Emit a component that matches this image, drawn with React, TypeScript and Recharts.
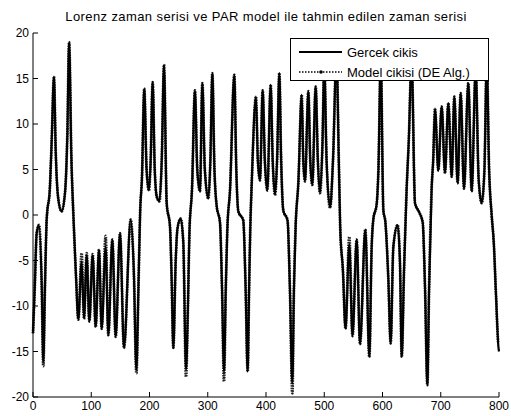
import React from "react";

// Library
import { LineChart, XAxis, YAxis, Line, Legend } from "recharts";

// sample index (x) and the two series at turning points
const sampleIndex = [
  0, 3, 6.3, 10.3, 14.9, 17.7, 20.5, 23.5, 29, 32, 36, 39, 43, 49, 55, 59, 62,
  66, 69, 74, 77.8, 83.5, 87.6, 92.2, 96.7, 102.4, 107.6, 113.3, 117.9, 124.7,
  129.3, 136.2, 141.9, 149.4, 156.2, 167.7, 173, 177.5, 181, 184, 187, 191,
  195, 199, 202, 205.4, 209, 212.5, 216.9, 221, 224.9, 229.5, 235.2, 238,
  240.9, 245, 248, 253.5, 258, 262.7, 266, 268.5, 273, 278, 282, 286.7, 290.7,
  295, 301, 304.5, 307.9, 311.5, 315.3, 321, 324.5, 327.9, 331, 333.6, 338.2,
  345.6, 349, 352.5, 361, 365, 368.5, 371, 373, 375.5, 382.8, 386, 389.7,
  394.3, 398, 402.3, 408, 411.5, 415.5, 419, 422.9, 426, 429.7, 437, 441,
  445.2, 448, 451, 455.5, 461.3, 464, 467, 472.7, 476, 479.5, 485.3, 489,
  492.7, 497, 500, 504, 510, 515, 521, 525, 527.5, 532, 536.5, 543, 548.5,
  555.7, 561.4, 570.5, 577.4, 581.4, 584.2, 590, 593, 597, 601.5, 605, 610,
  614, 618.6, 626, 630, 633, 637, 641.5, 645, 650, 655.8, 663, 669, 673, 677,
  680, 684.4, 687, 690.1, 695.8, 701.6, 707.3, 713, 718.8, 723.3, 729, 734.2,
  739.9, 747.3, 753.1, 760, 765, 770.3, 775, 779, 783, 787.4, 791, 795, 799,
  800,
];

const gercekCikis = [
  -13, -8, -2, -1.1, -7.5, -16.1, -8, -0.5, 3, 8, 15.2, 7, 2, 0.4, 2.5, 9, 19,
  6, 0.5, -7, -11.5, -5.1, -11.4, -4.4, -11.7, -4.4, -12.3, -3.8, -12.5, -3.5,
  -13.2, -2.7, -13.4, -2, -14.6, -0.5, -6, -17, -8, 0.5, 4, 13.9,
  5, 2.7, 6, 14.6, 5, 2, 1.5, 6, 16.5, 1.3, -1.3, -7,
  -14.6, -5, -1.5, -0.4, -3, -17, -10, -2, 2.9, 13.7, 5, 2.6, 14.5,
  5, 1.8, 6, 15.6, 5, 1, -0.8, -8, -17.2, -8, -1.6, 2.7,
  15.4, 5, 0.4, -0.6, -8, -17.2, -8, -1.5, 3.5, 13, 6, 3.8,
  13.7, 6, 2.7, 14.3, 6, 2.2, 6, 15.6, 6, 0.5, -0.6, -8,
  -18.5, -8, -1, 3.5, 13.2, 6, 3.7, 13.6, 6, 3.3, 14.1, 6,
  2.4, 8, 16.5, 6, 0.8, 6, 17.5, 6, -1.6, -6, -12.5, -3.2, -13.3,
  -2.7, -14.2, -1.6, -15.6, -3.5, -0.5, 1.2, 5, 17, 0.5, -0.8, -7,
  -14.1, -3.5, -1.1, -5.3, -15.6, -6, 3, 8, 17, 1.3, 0.3, -0.8, -8, -18.7,
  -8, 3, 6, 11.7, 4.9, 11.9, 4.6, 12.3, 4.2, 13, 3.5, 13.4,
  2.9, 14.5, 2.6, 16, 4, 1.3, 5, 17, 5, 0, -3, -9, -14.5,
  -15,
];

const modelCikisi = [
  -13, -8, -2, -1.1, -7.5, -16.6, -8, -0.5, 3, 8, 15.2, 7, 2, 0.4, 2.5, 9, 19,
  6, 0.5, -7, -11.5, -4.2, -11.4, -4.2, -11.7, -4.3, -12.3, -3.8, -12.5, -2.3,
  -13.2, -2.7, -13.4, -2, -14.6, -0.5, -6, -17.4, -8, 0.5, 4, 13.9,
  5, 2.7, 6, 14.6, 5, 2, 1.5, 6, 16.5, 1.3, -1.3, -7,
  -14.6, -5, -1.5, -0.4, -3, -17.8, -10, -2, 2.9, 13.7, 5, 2.6, 14.5,
  5, 1.8, 6, 15.6, 5, 1, -0.8, -8, -18.3, -8, -1.6, 2.7,
  15.4, 5, 0.4, -0.6, -8, -17.2, -8, -1.5, 3.5, 13, 6, 3.8,
  13.7, 6, 2.7, 14.3, 6, 2.2, 6, 15.6, 6, 0.5, -0.6, -8,
  -19.6, -8, -1, 3.5, 13.2, 6, 3.7, 13.6, 6, 3.3, 14.1, 6,
  2.4, 8, 16.5, 6, 0.8, 6, 17.5, 6, -1.6, -6, -12.5, -2.4, -13.3,
  -2.7, -14.2, -1.6, -15.6, -3.5, -0.5, 1.2, 5, 17, 0.5, -0.8, -7,
  -14.1, -3.5, -1.1, -5.3, -15.6, -6, 3, 8, 17, 1.3, 0.3, -0.8, -8, -18.7,
  -8, 3, 6, 11.7, 4.9, 11.9, 4.6, 12.3, 4.2, 13, 3.5, 13.4,
  2.9, 14.5, 2.6, 16, 4, 1.3, 5, 17, 5, 0, -3, -9, -14,
  -14,
];

const xTicks = [0, 100, 200, 300, 400, 500, 600, 700, 800];
const yTicks = [-20, -15, -10, -5, 0, 5, 10, 15, 20];

const data = sampleIndex.map((t, i) => ({
  t,
  gercek: gercekCikis[i],
  model: modelCikisi[i],
}));

const FONT = "'Liberation Sans', Arial, sans-serif";

const BottomTick = (props: any) => {
  const { x, y, payload } = props;
  return (
    <g>
      <line x1={x} x2={x} y1={y} y2={y - 5} stroke="#000" />
      <text x={x} y={y + 13} textAnchor="middle" fontSize={12} fontFamily={FONT} fill="#000">
        {payload.value}
      </text>
    </g>
  );
};

const TopTick = (props: any) => {
  const { x, y } = props;
  return <line x1={x} x2={x} y1={y} y2={y + 5} stroke="#000" />;
};

const LeftTick = (props: any) => {
  const { x, y, payload } = props;
  return (
    <g>
      <line x1={x} x2={x + 5} y1={y} y2={y} stroke="#000" />
      <text x={x - 4} y={y + 4} textAnchor="end" fontSize={12} fontFamily={FONT} fill="#000">
        {payload.value}
      </text>
    </g>
  );
};

const RightTick = (props: any) => {
  const { x, y } = props;
  return <line x1={x} x2={x - 5} y1={y} y2={y} stroke="#000" />;
};

const LegendBox = () => (
  <div
    style={{
      background: "#fff",
      border: "1px solid #000",
      width: 197,
      height: 41,
      fontFamily: FONT,
      fontSize: 13,
      color: "#000",
      boxSizing: "content-box",
    }}
  >
    <div style={{ display: "flex", alignItems: "center", height: 20, marginTop: 3 }}>
      <svg width={56} height={10}>
        <line x1={8} x2={51} y1={5} y2={5} stroke="#000" strokeWidth={2} />
      </svg>
      <span>Gercek cikis</span>
    </div>
    <div style={{ display: "flex", alignItems: "center", height: 20 }}>
      <svg width={56} height={10}>
        <line x1={8} x2={51} y1={5} y2={5} stroke="#000" strokeWidth={1.5} strokeDasharray="1.5 1.5" />
        <circle cx={30} cy={5} r={1.8} fill="#000" />
      </svg>
      <span>Model cikisi (DE Alg.)</span>
    </div>
  </div>
);

function App() {
  return (
    <div style={{ position: "absolute", left: 0, top: 0, width: 511, height: 416, background: "#fff" }}>
      <div
        style={{
          position: "absolute",
          left: 33,
          top: 9,
          width: 466,
          textAlign: "center",
          fontFamily: FONT,
          fontSize: 13,
          letterSpacing: 0.4,
          color: "#000",
          whiteSpace: "nowrap",
        }}
      >
        Lorenz zaman serisi ve PAR model ile tahmin edilen zaman serisi
      </div>
      <LineChart width={511} height={416} data={data} margin={{ top: 33, right: 12, bottom: 0, left: 0 }}>
        <XAxis
          xAxisId="bottom"
          dataKey="t"
          type="number"
          domain={[0, 800]}
          ticks={xTicks}
          interval={0}
          height={19}
          tickSize={0}
          tickMargin={0}
          tickLine={false}
          tick={<BottomTick />}
          axisLine={{ stroke: "#000" }}
        />
        <XAxis
          xAxisId="top"
          orientation="top"
          dataKey="t"
          type="number"
          domain={[0, 800]}
          ticks={xTicks}
          interval={0}
          height={0}
          tickSize={0}
          tickMargin={0}
          tickLine={false}
          tick={<TopTick />}
          axisLine={{ stroke: "#000" }}
        />
        <YAxis
          yAxisId="left"
          type="number"
          domain={[-20, 20]}
          ticks={yTicks}
          interval={0}
          width={33}
          tickSize={0}
          tickMargin={0}
          tickLine={false}
          tick={<LeftTick />}
          axisLine={{ stroke: "#000" }}
        />
        <YAxis
          yAxisId="right"
          orientation="right"
          type="number"
          domain={[-20, 20]}
          ticks={yTicks}
          interval={0}
          width={0}
          tickSize={0}
          tickMargin={0}
          tickLine={false}
          tick={<RightTick />}
          axisLine={{ stroke: "#000" }}
        />
        <Line
          xAxisId="top"
          yAxisId="right"
          dataKey="model"
          type="monotone"
          stroke="#222"
          strokeWidth={2.8}
          strokeDasharray="1.5 1"
          dot={false}
          isAnimationActive={false}
        />
        <Line
          xAxisId="bottom"
          yAxisId="left"
          dataKey="gercek"
          type="monotone"
          stroke="#000"
          strokeWidth={2.2}
          dot={false}
          isAnimationActive={false}
        />
        <Legend
          layout="horizontal"
          verticalAlign="middle"
          align="center"
          content={<LegendBox />}
          wrapperStyle={{ left: 290, top: 38, width: 199, height: 43 }}
        />
      </LineChart>
    </div>
  );
}

export default App;
